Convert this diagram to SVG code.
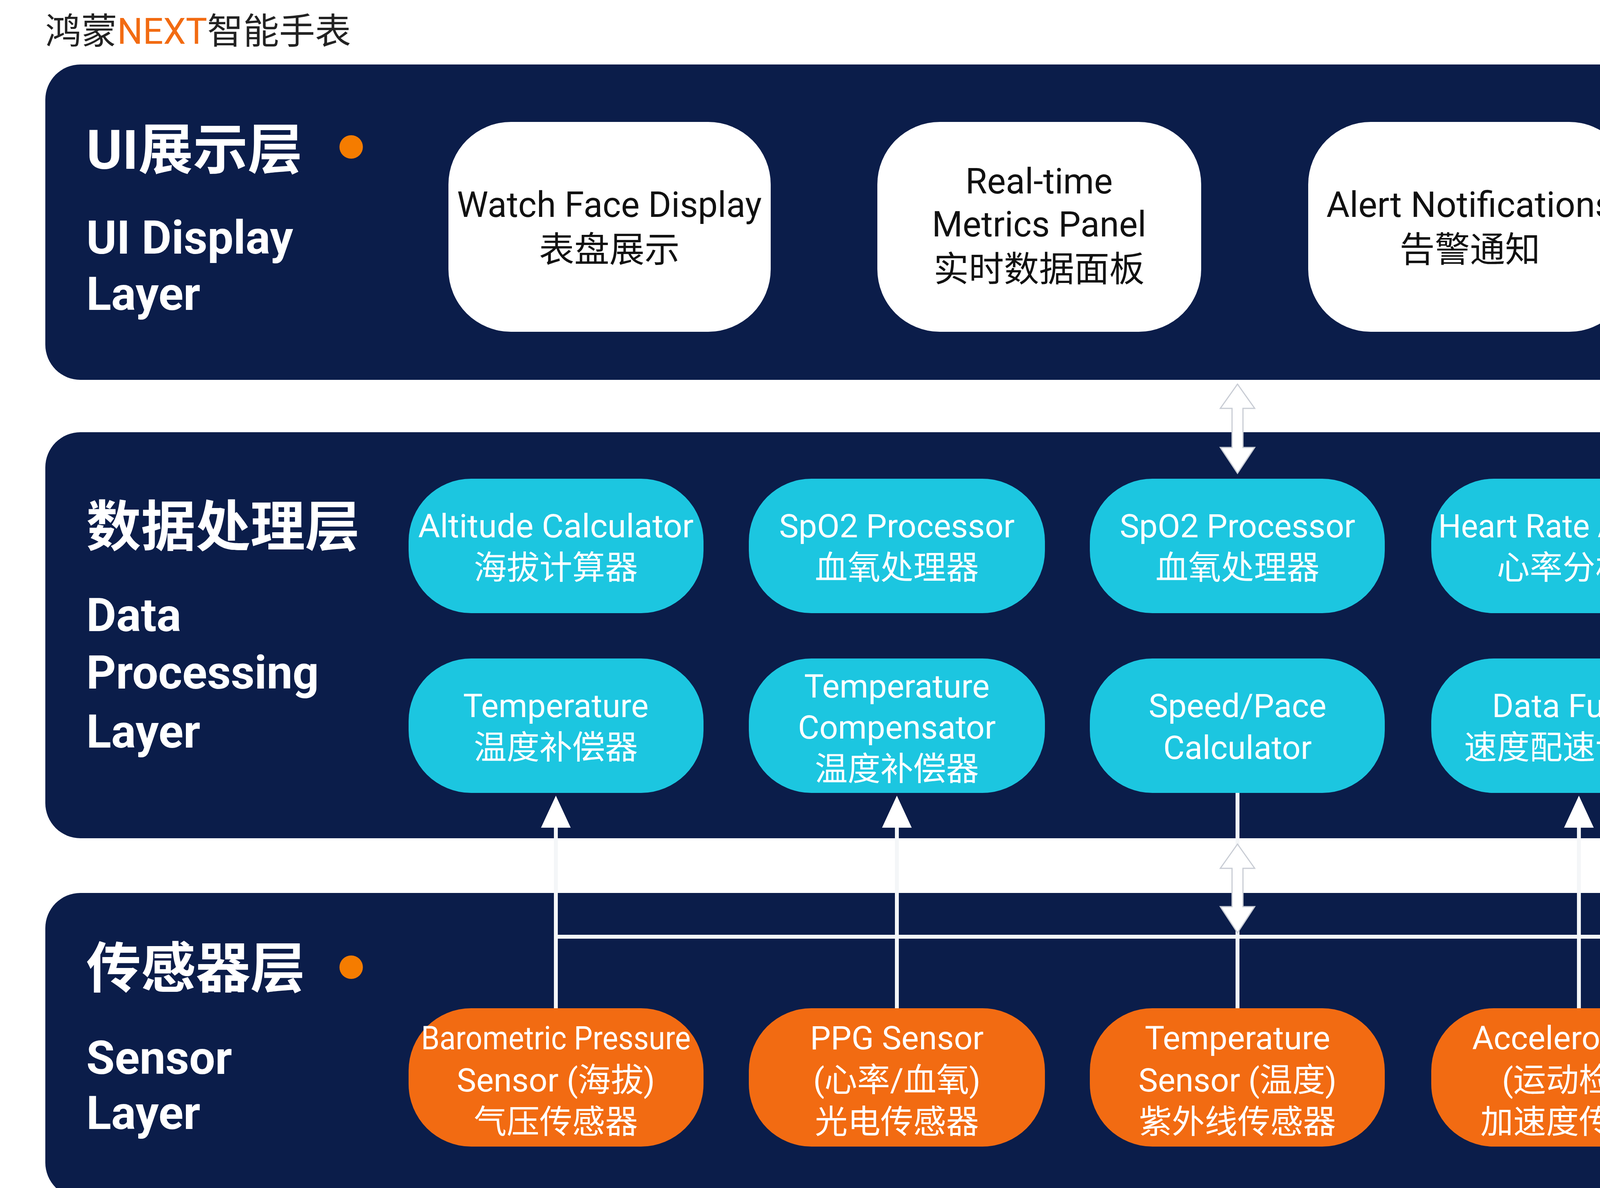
<svg xmlns="http://www.w3.org/2000/svg" width="5504" height="3040" viewBox="0 0 5504 3040">
<defs>
<style>
text{font-family:Roboto,"Noto Sans CJK SC",sans-serif;text-anchor:middle}
.panel{fill:#0b1d4a}
.ui{fill:#ffffff}
.uit{fill:#111;font-size:90px}
.proc{fill:#1cc6e0}
.pt{fill:#fff;font-size:84px}
.sens{fill:#f26b12}
.st{fill:#fff;font-size:84px}
.lh{fill:#fff;font-size:140px;font-weight:bold;text-anchor:start}
.le{fill:#fff;font-size:118px;font-weight:bold;text-anchor:start}
.dot{fill:#f57c00}
.ln{stroke:#f4f6f8;stroke-width:10;fill:none}
.ah{fill:#fff}
.dbl{fill:#fff;stroke:#c8ccd4;stroke-width:3}
</style>
</defs>
<rect width="5504" height="3040" fill="#fff"/>
<text x="116" y="112" style="text-anchor:start;font-size:92px;fill:#222">鸿蒙<tspan fill="#f26b12">NEXT</tspan>智能手表</text>
<rect class="panel" x="116" y="165" width="5279" height="807" rx="90"/>
<rect class="panel" x="116" y="1106" width="5279" height="1039" rx="90"/>
<rect class="panel" x="116" y="2285" width="5279" height="780" rx="90"/>
<g id="label-ui"><text class="lh" x="221" y="432">UI展示层</text><circle class="dot" cx="899" cy="376" r="30"/><text class="le" x="221" y="649">UI Display</text><text class="le" x="221" y="793">Layer</text></g>
<g id="label-proc"><text class="lh" x="221" y="1397">数据处理层</text><text class="le" x="221" y="1615">Data</text><text class="le" x="221" y="1762">Processing</text><text class="le" x="221" y="1913">Layer</text></g>
<g id="label-sens"><text class="lh" x="221" y="2527">传感器层</text><circle class="dot" cx="899" cy="2475" r="30"/><text class="le" x="221" y="2748">Sensor</text><text class="le" x="221" y="2889">Layer</text></g>
<g id="ui1"><rect class="ui" x="1148" y="312" width="825" height="537" rx="160"/><text class="uit" x="1560" y="555" textLength="780" lengthAdjust="spacingAndGlyphs">Watch Face Display</text><text class="uit" x="1560" y="670">表盘展示</text></g>
<g id="ui2"><rect class="ui" x="2246" y="312" width="829" height="537" rx="160"/><text class="uit" x="2660" y="495">Real-time</text><text class="uit" x="2660" y="605">Metrics Panel</text><text class="uit" x="2660" y="720">实时数据面板</text></g>
<g id="ui3"><rect class="ui" x="3349" y="312" width="828" height="537" rx="160"/><text class="uit" x="3763" y="555" textLength="735" lengthAdjust="spacingAndGlyphs">Alert Notifications</text><text class="uit" x="3763" y="670">告警通知</text></g>
<g id="ui4"><rect class="ui" x="4447" y="312" width="829" height="537" rx="160"/><text class="uit" x="4861" y="495">Navigation</text><text class="uit" x="4861" y="605">Controls</text><text class="uit" x="4861" y="720">导航控制</text></g>
<g id="p1"><rect class="proc" x="1046" y="1225" width="755" height="344" rx="160"/><text class="pt" x="1423" y="1375" textLength="705" lengthAdjust="spacingAndGlyphs">Altitude Calculator</text><text class="pt" x="1423" y="1482">海拔计算器</text></g>
<g id="p2"><rect class="proc" x="1917" y="1225" width="758" height="344" rx="160"/><text class="pt" x="2296" y="1375">SpO2 Processor</text><text class="pt" x="2296" y="1482">血氧处理器</text></g>
<g id="p3"><rect class="proc" x="2790" y="1225" width="755" height="344" rx="160"/><text class="pt" x="3168" y="1375">SpO2 Processor</text><text class="pt" x="3168" y="1482">血氧处理器</text></g>
<g id="p4"><rect class="proc" x="3664" y="1225" width="755" height="344" rx="160"/><text class="pt" x="4042" y="1375" textLength="720" lengthAdjust="spacingAndGlyphs">Heart Rate Analyzer</text><text class="pt" x="4042" y="1482">心率分析器</text></g>
<g id="p5"><rect class="proc" x="4538" y="1225" width="759" height="344" rx="160"/><text class="pt" x="4917" y="1375">Temperature</text><text class="pt" x="4917" y="1482">心率分析器</text></g>
<g id="p6"><rect class="proc" x="1046" y="1685" width="755" height="344" rx="160"/><text class="pt" x="1423" y="1835">Temperature</text><text class="pt" x="1423" y="1942">温度补偿器</text></g>
<g id="p7"><rect class="proc" x="1917" y="1685" width="758" height="344" rx="160"/><text class="pt" x="2296" y="1785">Temperature</text><text class="pt" x="2296" y="1890">Compensator</text><text class="pt" x="2296" y="1997">温度补偿器</text></g>
<g id="p8"><rect class="proc" x="2790" y="1685" width="755" height="344" rx="160"/><text class="pt" x="3168" y="1835">Speed/Pace</text><text class="pt" x="3168" y="1942">Calculator</text></g>
<g id="p9"><rect class="proc" x="3664" y="1685" width="755" height="344" rx="160"/><text class="pt" x="4042" y="1835">Data Fusion</text><text class="pt" x="4042" y="1942">速度配速计算器</text></g>
<g id="p10"><rect class="proc" x="4538" y="1685" width="759" height="344" rx="160"/><text class="pt" x="4917" y="1835" textLength="720" lengthAdjust="spacingAndGlyphs">Data Fusion Engine</text><text class="pt" x="4917" y="1942">数据融合引擎</text></g>
<g id="s1"><rect class="sens" x="1046" y="2580" width="755" height="354" rx="160"/><text class="st" x="1423" y="2685" textLength="690" lengthAdjust="spacingAndGlyphs">Barometric Pressure</text><text class="st" x="1423" y="2793">Sensor (海拔)</text><text class="st" x="1423" y="2900">气压传感器</text></g>
<g id="s2"><rect class="sens" x="1917" y="2580" width="758" height="354" rx="160"/><text class="st" x="2296" y="2685">PPG Sensor</text><text class="st" x="2296" y="2793">(心率/血氧)</text><text class="st" x="2296" y="2900">光电传感器</text></g>
<g id="s3"><rect class="sens" x="2790" y="2580" width="755" height="354" rx="160"/><text class="st" x="3168" y="2685">Temperature</text><text class="st" x="3168" y="2793">Sensor (温度)</text><text class="st" x="3168" y="2900">紫外线传感器</text></g>
<g id="s4"><rect class="sens" x="3664" y="2580" width="755" height="354" rx="160"/><text class="st" x="4042" y="2685">Accelerometer</text><text class="st" x="4042" y="2793">(运动检测)</text><text class="st" x="4042" y="2900">加速度传感器</text></g>
<g id="s5"><rect class="sens" x="4538" y="2580" width="759" height="354" rx="160"/><text class="st" x="4917" y="2738">GPS Module</text><text class="st" x="4917" y="2845">(定位) 定位模块</text></g>
<g id="connectors">
<path class="ln" d="M1423 2397H4917M1423 2580V2110M2296 2580V2110M4042 2580V2110M4917 2580V2029M3168 2580V2029M3168 983V1150"/>
<polygon class="ah" points="1423,2036 1385,2118 1461,2118"/>
<polygon class="ah" points="2296,2036 2258,2118 2334,2118"/>
<polygon class="ah" points="4042,2036 4004,2118 4080,2118"/>
<polygon class="dbl" points="3168,983 3124,1045 3154,1045 3154,1145 3124,1145 3168,1211 3212,1145 3182,1145 3182,1045 3212,1045"/>
<polygon class="dbl" points="3168,2160 3124,2222 3154,2222 3154,2320 3124,2320 3168,2387 3212,2320 3182,2320 3182,2222 3212,2222"/>
</g>
</svg>
